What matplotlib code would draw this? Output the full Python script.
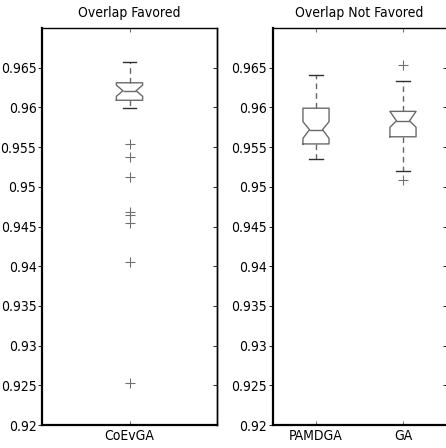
import matplotlib.pyplot as plt
from matplotlib import font_manager

# box statistics
titles = ['Overlap Favored', 'Overlap Not Favored']
groups = [['CoEvGA'], ['PAMDGA', 'GA']]
medians = [[0.9621], [0.9572, 0.9583]]
q1s = [[0.9609], [0.9554, 0.9563]]
q3s = [[0.9631], [0.9599, 0.9595]]
whislos = [[0.9599], [0.9535, 0.9520]]
whishis = [[0.9657], [0.9641, 0.9633]]
cilos = [[0.9614], [0.9561, 0.9575]]
cihis = [[0.9628], [0.9582, 0.9595]]
fliers = [[[0.9554, 0.9537, 0.9512, 0.9468, 0.9465, 0.9454, 0.9405, 0.9253]],
          [[], [0.9654, 0.9509]]]
yticks = [0.92, 0.925, 0.93, 0.935, 0.94, 0.945, 0.95, 0.955, 0.96, 0.965]

# look for a narrow sans face, otherwise shrink the regular one
narrow = None
for f in font_manager.fontManager.ttflist:
    if f.style != 'normal' or f.weight not in (400, 'normal', 'regular'):
        continue
    if 'Narrow' in f.name or 'Condensed' in f.name or f.stretch in ('condensed', 'semi-condensed'):
        if 'Mono' in f.name or 'Serif' in f.name:
            continue
        if narrow is None or 'Liberation' in f.name:
            narrow = f
if narrow is not None:
    font = font_manager.FontProperties(fname=narrow.fname, size=10)
else:
    font = font_manager.FontProperties(family='Liberation Sans', size=9)

fig = plt.figure(figsize=(4.46, 4.48), dpi=100)
rects = [[42 / 446, 23 / 448, 175 / 446, 397 / 448],
         [272.5 / 446, 23 / 448, 174 / 446, 397 / 448]]

for k in range(2):
    ax = fig.add_axes(rects[k])
    n = len(groups[k])
    stats = []
    for i in range(n):
        stats.append(dict(med=medians[k][i], q1=q1s[k][i], q3=q3s[k][i],
                          whislo=whislos[k][i], whishi=whishis[k][i],
                          cilo=cilos[k][i], cihi=cihis[k][i],
                          fliers=fliers[k][i], label=groups[k][i]))
    w = 0.15 * n
    ax.bxp(stats, positions=range(1, n + 1), widths=w, shownotches=True,
           boxprops=dict(color='#6a6a6a', lw=1.0),
           medianprops=dict(color='#6a6a6a', lw=1.0),
           whiskerprops=dict(color='#666666', lw=1.0, linestyle=(0, (4, 3))),
           capprops=dict(color='#303030', lw=1.0),
           flierprops=dict(marker='+', markeredgecolor='#707070', markersize=7,
                           markeredgewidth=0.8))
    ax.set_xlim(0.5, n + 0.5)
    ax.set_ylim(0.92, 0.97)
    ax.set_yticks(yticks)
    ax.set_yticklabels(['%g' % v for v in yticks], fontproperties=font)
    ax.set_xticks(range(1, n + 1))
    ax.set_xticklabels(groups[k], fontproperties=font)
    ax.set_title(titles[k], fontproperties=font, pad=8)
    ax.tick_params(axis='x', direction='in', top=True, length=3, width=0.6,
                   colors='#555555', labelcolor='black', pad=3)
    ax.tick_params(axis='y', direction='out', length=3, width=0.6, pad=1)
    sec = ax.secondary_yaxis('right')
    sec.set_yticks(yticks)
    sec.tick_params(direction='in', length=3, width=0.6, labelright=False)
    sec.spines['right'].set_linewidth(1.0)
    for s in ax.spines.values():
        s.set_linewidth(1.0)
    ax.spines['bottom'].set_linewidth(1.6)
    ax.spines['left'].set_linewidth(1.6)
    if k == 1:
        ax.spines['right'].set_visible(False)
        sec.spines['right'].set_visible(False)

fig.savefig('out.png', dpi=100)
